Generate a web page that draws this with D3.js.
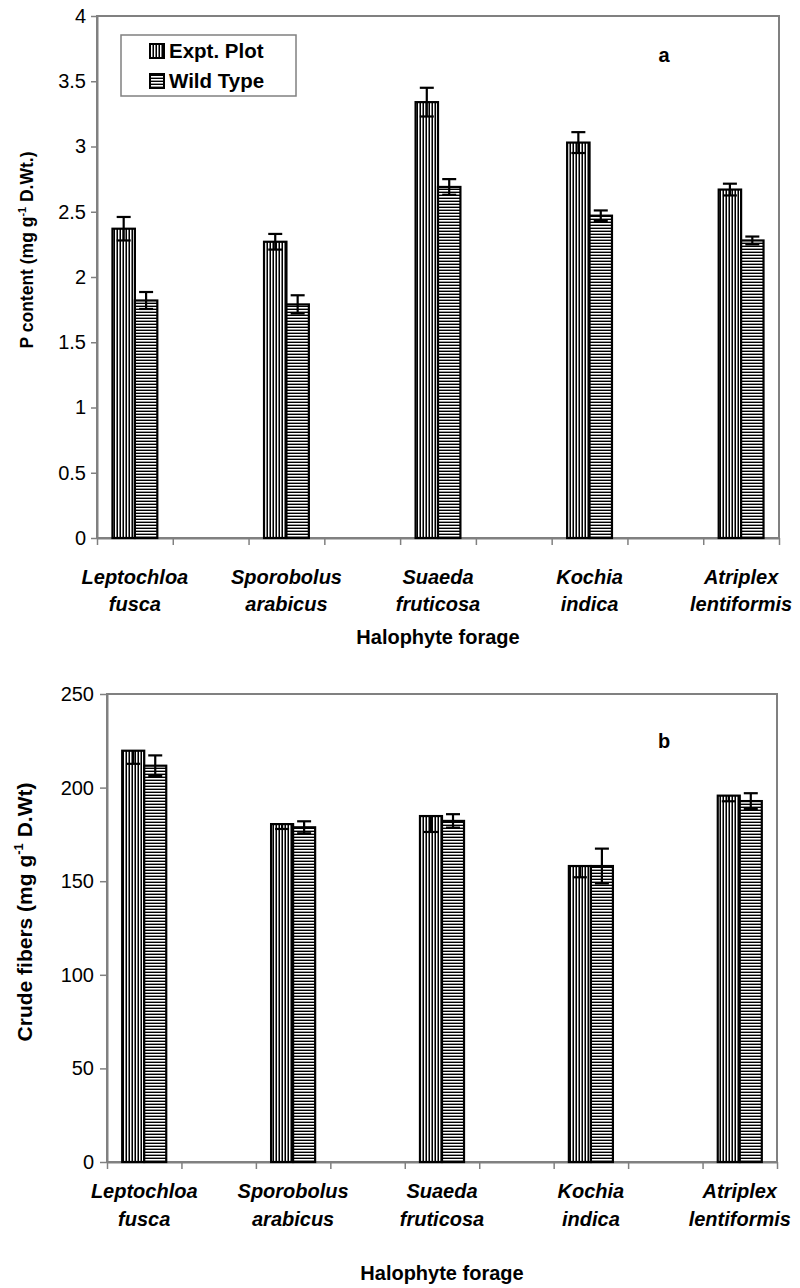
<!DOCTYPE html>
<html>
<head>
<meta charset="utf-8">
<script src="https://cdn.jsdelivr.net/npm/d3@7"></script>
<style>
  html, body { margin: 0; padding: 0; background: #fff; }
  svg { display: block; font-family: "Liberation Sans", Arial, sans-serif; }
</style>
</head>
<body>
<svg id="chart" width="800" height="1288"></svg>
<script>
// ---- Data ----
const species = ["Leptochloa fusca", "Sporobolus arabicus", "Suaeda fruticosa", "Kochia indica", "Atriplex lentiformis"];
const seriesNames = ["Expt. Plot", "Wild Type"];

// Panel a: P content (mg g-1 D.Wt.)
const pExpt    = [2.37, 2.27, 3.34, 3.03, 2.67];
const pExptErr = [0.09, 0.06, 0.11, 0.08, 0.045];
const pWild    = [1.82, 1.79, 2.69, 2.47, 2.28];
const pWildErr = [0.065, 0.07, 0.06, 0.04, 0.03];
const pTicks   = [0, 0.5, 1, 1.5, 2, 2.5, 3, 3.5, 4];

// Panel b: Crude fibers (mg g-1 D.Wt)
const fExpt    = [219.7, 180.5, 184.8, 158.1, 195.7];
const fExptErr = [7, 2.6, 8.5, 6, 3];
const fWild    = [211.7, 178.8, 182.2, 158.1, 192.8];
const fWildErr = [5.5, 3.2, 3.6, 9.3, 4.2];
const fTicks   = [0, 50, 100, 150, 200, 250];

// ---- Drawing ----
const svg = d3.select("#chart");
const defs = svg.append("defs");

// vertical stripes (Expt. Plot)
const pv = defs.append("pattern").attr("id", "vstripe").attr("patternUnits", "userSpaceOnUse")
  .attr("width", 3).attr("height", 3);
pv.append("rect").attr("width", 3).attr("height", 3).attr("fill", "#fff");
pv.append("rect").attr("x", 0).attr("width", 1).attr("height", 3).attr("fill", "#000");
pv.append("rect").attr("x", 2).attr("width", 1).attr("height", 3).attr("fill", "#777");

// horizontal stripes (Wild Type)
const ph = defs.append("pattern").attr("id", "hstripe").attr("patternUnits", "userSpaceOnUse")
  .attr("width", 3).attr("height", 3);
ph.append("rect").attr("width", 3).attr("height", 3).attr("fill", "#fff");
ph.append("rect").attr("y", 0).attr("width", 3).attr("height", 1).attr("fill", "#000");
ph.append("rect").attr("y", 2).attr("width", 3).attr("height", 1).attr("fill", "#999");

const fills = ["url(#vstripe)", "url(#hstripe)"];

function panel(opt) {
  const g = svg.append("g");
  const slots = d3.range(species.length * 2 - 1); // groups separated by blank slots
  const xSlot = d3.scaleBand().domain(slots).range([opt.left, opt.right]).padding(0);
  const xSer = d3.scaleBand().domain([0, 1]).range([0, xSlot.bandwidth()]).paddingInner(0).paddingOuter(0.69);
  const xEdge = d3.scaleLinear().domain([0, slots.length]).range([opt.left, opt.right]);
  const y = d3.scaleLinear().domain([0, opt.max]).range([opt.bottom, opt.top]);

  // frame
  g.append("rect").attr("x", opt.left).attr("y", opt.top)
    .attr("width", opt.right - opt.left).attr("height", opt.bottom - opt.top)
    .attr("fill", "none").attr("stroke", "#808080").attr("stroke-width", 2);

  // y axis
  const ya = g.append("g").attr("transform", `translate(${opt.left},0)`)
    .call(d3.axisLeft(y).tickValues(opt.ticks).tickSize(opt.tick).tickSizeOuter(0).tickPadding(opt.pad).tickFormat(d3.format("")));
  ya.select(".domain").attr("stroke", "#808080").attr("stroke-width", 2);
  ya.selectAll(".tick line").attr("stroke", "#808080").attr("stroke-width", 1.5);
  ya.selectAll(".tick text").attr("font-size", 20).attr("fill", "#000")
    .attr("font-family", "'Liberation Sans', Arial, sans-serif");

  // x axis (ticks at slot boundaries)
  const xa = g.append("g").attr("transform", `translate(0,${opt.bottom})`)
    .call(d3.axisBottom(xEdge).tickValues(d3.range(slots.length + 1)).tickSize(7).tickSizeOuter(0).tickFormat(""));
  xa.select(".domain").attr("stroke", "#808080").attr("stroke-width", 2);
  xa.selectAll(".tick line").attr("stroke", "#808080").attr("stroke-width", 1.5);

  // bars
  const series = [opt.expt, opt.wild];
  const errs = [opt.exptErr, opt.wildErr];
  species.forEach((sp, i) => {
    const sx = xSlot(i * 2);
    series.forEach((vals, s) => {
      const bx = sx + xSer(s), bw = xSer.bandwidth();
      g.append("rect").attr("x", bx).attr("y", y(vals[i]))
        .attr("width", bw).attr("height", y(0) - y(vals[i]))
        .attr("fill", fills[s]).attr("stroke", "#000").attr("stroke-width", 2.2);
    });
    series.forEach((vals, s) => {
      const cx = sx + xSer(s) + xSer.bandwidth() / 2;
      const v = vals[i], e = errs[s][i];
      const hi = (s === 0 && opt.exptMinusOnly) ? v : v + e;
      const lo = v - e;
      const eg = g.append("g").attr("stroke", "#000").attr("stroke-width", 2.2);
      eg.append("line").attr("x1", cx).attr("x2", cx).attr("y1", y(hi)).attr("y2", y(lo));
      if (!(s === 0 && opt.exptMinusOnly))
        eg.append("line").attr("x1", cx - 7).attr("x2", cx + 7).attr("y1", y(hi)).attr("y2", y(hi));
      eg.append("line").attr("x1", cx - 7).attr("x2", cx + 7).attr("y1", y(lo)).attr("y2", y(lo));
    });
    // category label
    const parts = sp.split(" ");
    const tx = g.append("text").attr("text-anchor", "middle")
      .attr("font-size", 20).attr("font-weight", "bold").attr("font-style", "italic");
    parts.forEach((p, k) => {
      tx.append("tspan").attr("x", sx + xSlot.bandwidth() / 2)
        .attr("y", opt.bottom + opt.lab1 + k * opt.labGap).text(p);
    });
  });

  // x title
  g.append("text").attr("x", (opt.left + opt.right) / 2 + opt.xtOff).attr("y", opt.bottom + opt.xtitle)
    .attr("text-anchor", "middle").attr("font-size", 20).attr("font-weight", "bold").text("Halophyte forage");

  // y title
  const yt = g.append("text").attr("transform", `translate(${opt.ytx},${opt.yty}) rotate(-90)`)
    .attr("text-anchor", "middle").attr("font-size", opt.ytSize).attr("font-weight", "bold");
  yt.append("tspan").text(opt.ytA);
  yt.append("tspan").attr("font-size", opt.ytSize * 0.62).attr("dy", -opt.ytSize * 0.42).text("-1");
  yt.append("tspan").attr("dy", opt.ytSize * 0.42).text(opt.ytB);

  // panel letter
  g.append("text").attr("x", opt.letterX).attr("y", opt.letterY).attr("text-anchor", "middle")
    .attr("font-size", 20).attr("font-weight", "bold").text(opt.letter);

  return g;
}

panel({
  left: 97, right: 779, top: 16, bottom: 538, max: 4, ticks: pTicks, tick: 6, pad: 5,
  expt: pExpt, exptErr: pExptErr, wild: pWild, wildErr: pWildErr, exptMinusOnly: false,
  lab1: 46, labGap: 27, xtitle: 106, xtOff: 0,
  ytx: 33, yty: 250, ytSize: 17.5, ytA: "P content (mg g", ytB: " D.Wt.)",
  letter: "a", letterX: 664, letterY: 62
});

panel({
  left: 107, right: 777, top: 694, bottom: 1162, max: 250, ticks: fTicks, tick: 7, pad: 6,
  expt: fExpt, exptErr: fExptErr, wild: fWild, wildErr: fWildErr, exptMinusOnly: true,
  lab1: 36, labGap: 28, xtitle: 118, xtOff: 0,
  ytx: 32, yty: 912, ytSize: 21, ytA: "Crude fibers (mg g", ytB: " D.Wt)",
  letter: "b", letterX: 664, letterY: 748
});

// legend (panel a)
const lg = svg.append("g");
lg.append("rect").attr("x", 121).attr("y", 35).attr("width", 175).attr("height", 61)
  .attr("fill", "#fff").attr("stroke", "#808080").attr("stroke-width", 1.5);
seriesNames.forEach((n, i) => {
  lg.append("rect").attr("x", 150).attr("y", 44 + i * 30).attr("width", 14).attr("height", 14)
    .attr("fill", fills[i]).attr("stroke", "#000").attr("stroke-width", 2);
  lg.append("text").attr("x", 169).attr("y", 58 + i * 30).attr("font-size", 20.5)
    .attr("font-weight", "bold").text(n);
});
</script>
</body>
</html>
